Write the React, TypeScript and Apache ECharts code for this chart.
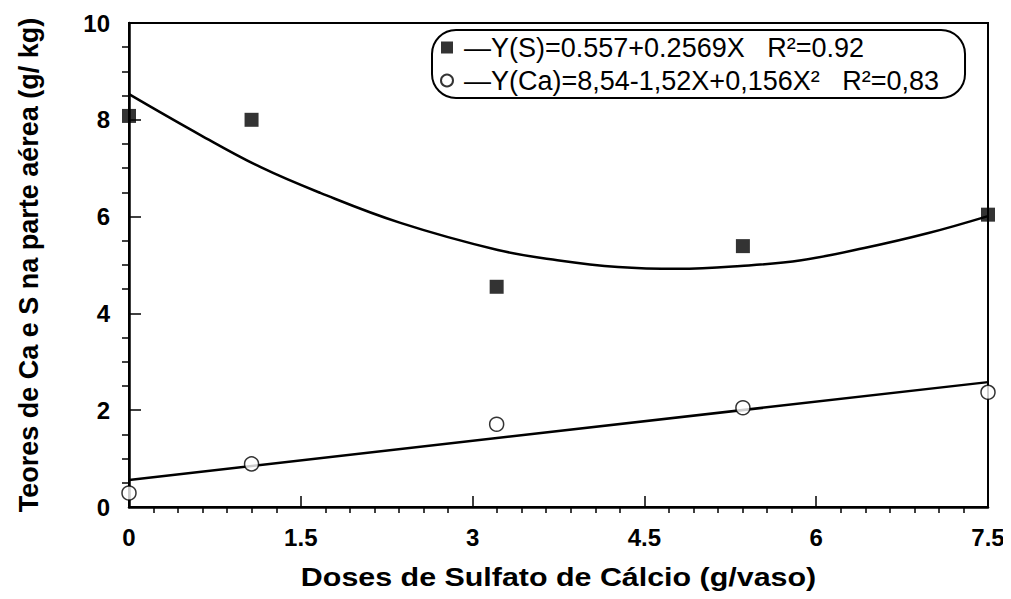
import React, { useEffect, useRef } from "react";
import * as echarts from "echarts";

// Doses of calcium sulfate (g/vaso) at which the plants were sampled
const doses = [0, 1.07, 3.21, 5.36, 7.5];
// Observed contents in the shoot (g/kg)
const squareValues = [8.08, 8.0, 4.55, 5.39, 6.04];
const circleValues = [0.29, 0.89, 1.71, 2.05, 2.37];
// Fitted curves as drawn on the figure
const curveX = [0, 0.62, 1.15, 1.67, 2.37, 3.22, 3.74, 4.27, 4.79, 5.34, 5.87, 6.42, 6.98, 7.5];
const curveY = [8.53, 7.69, 7.02, 6.49, 5.87, 5.31, 5.1, 4.96, 4.92, 4.98, 5.1, 5.35, 5.66, 6.01];
const lineX = [0, 7.5];
const lineY = [0.56, 2.58];

const squareName = "—Y(S)=0.557+0.2569X   R²=0.92";
const circleName = "—Y(Ca)=8,54-1,52X+0,156X²   R²=0,83";
const xTitle = "Doses de Sulfato de Cálcio (g/vaso)";
const yTitle = "Teores de Ca e S na parte aérea (g/ kg)";

const FONT = "'Liberation Sans', Arial, sans-serif";

const pairs = (xs: number[], ys: number[]) => xs.map((x, i) => [x, ys[i]]);

export default function App() {
  const ref = useRef<HTMLDivElement>(null);

  useEffect(() => {
    if (!ref.current) return;
    const chart = echarts.init(ref.current, undefined, { renderer: "svg" });
    const axisLine = { show: true, lineStyle: { color: "#000", width: 2.5 } };
    const gridLeft = 129;
    const gridRight = 23;
    chart.setOption({
      animation: false,
      backgroundColor: "#fff",
      grid: {
        left: gridLeft,
        right: gridRight,
        top: 23,
        bottom: 92,
        show: true,
        borderColor: "#000",
        borderWidth: 2,
        backgroundColor: "transparent",
      },
      xAxis: {
        type: "value",
        min: 0,
        max: 7.5,
        interval: 1.5,
        axisLine,
        axisTick: { show: true, inside: true, length: 11, lineStyle: { color: "#000", width: 1.5 } },
        minorTick: { show: true, splitNumber: 7, length: -6, lineStyle: { color: "#000", width: 1.5 } },
        splitLine: { show: false },
        axisLabel: { color: "#000", fontSize: 24, fontWeight: "bold", fontFamily: FONT, margin: 18 },
      },
      yAxis: {
        type: "value",
        min: 0,
        max: 10,
        interval: 2,
        axisLine,
        axisTick: { show: true, inside: true, length: 12, lineStyle: { color: "#000", width: 1.5 } },
        minorTick: { show: true, splitNumber: 4, length: -7, lineStyle: { color: "#000", width: 1.5 } },
        splitLine: { show: false },
        axisLabel: { color: "#000", fontSize: 24, fontWeight: "bold", fontFamily: FONT, margin: 19 },
        name: yTitle,
        nameLocation: "middle",
        nameGap: 87,
        nameTextStyle: { color: "#000", fontSize: 27, fontWeight: "bold", fontFamily: FONT },
      },
      // x-axis title, set in a slightly widened face
      graphic: [
        {
          type: "text",
          x: gridLeft + (1011 - gridLeft - gridRight) / 2,
          y: 577,
          scaleX: 1.17,
          silent: true,
          style: {
            text: xTitle,
            fill: "#000",
            font: `bold 26px ${FONT}`,
            textAlign: "center",
            textVerticalAlign: "middle",
          },
        },
      ],
      legend: {
        left: 432,
        top: 30,
        orient: "vertical",
        borderColor: "#000",
        borderWidth: 2,
        borderRadius: 24,
        padding: [4, 26, 4, 8],
        itemGap: 6,
        itemWidth: 24,
        itemHeight: 12,
        symbolKeepAspect: true,
        textStyle: { color: "#000", fontSize: 27, fontFamily: FONT },
        data: [
          { name: squareName, icon: "path://M0,0H10V10H0Z" },
          { name: circleName, icon: "circle" },
        ],
      },
      series: [
        {
          type: "line",
          data: pairs(curveX, curveY),
          smooth: 0.4,
          showSymbol: false,
          silent: true,
          lineStyle: { color: "#000", width: 2.5 },
          z: 2,
        },
        {
          type: "line",
          data: pairs(lineX, lineY),
          showSymbol: false,
          silent: true,
          lineStyle: { color: "#000", width: 2.5 },
          z: 2,
        },
        {
          name: squareName,
          type: "scatter",
          data: pairs(doses, squareValues),
          symbol: "rect",
          symbolSize: 14,
          itemStyle: { color: "#000" },
          z: 3,
        },
        {
          name: circleName,
          type: "scatter",
          data: pairs(doses, circleValues),
          symbol: "circle",
          symbolSize: 14,
          itemStyle: { color: "#fff", borderColor: "#000", borderWidth: 1.5 },
          z: 3,
        },
      ],
    });
    return () => chart.dispose();
  }, []);

  return <div ref={ref} style={{ width: 1011, height: 599, margin: -8 }} />;
}
